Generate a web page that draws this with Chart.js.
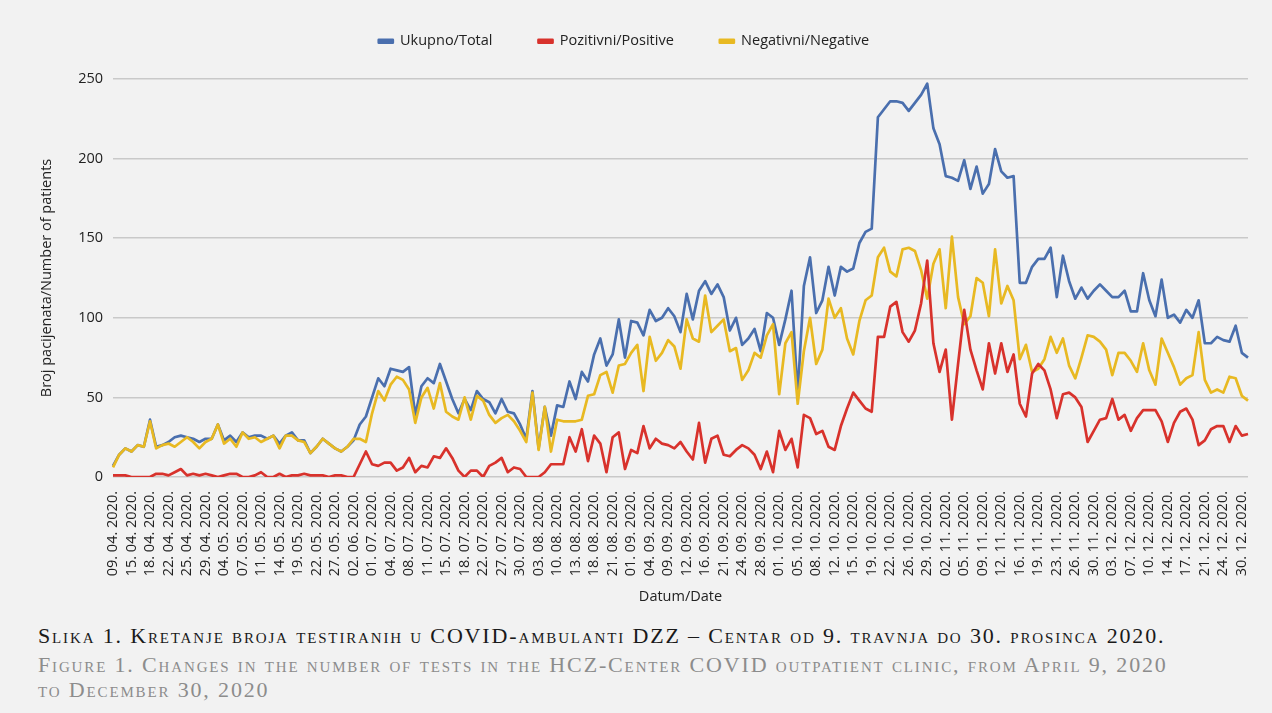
<!DOCTYPE html>
<html>
<head>
<meta charset="utf-8">
<title>Kretanje broja testiranih</title>
<script src="https://cdn.jsdelivr.net/npm/chart.js@4.4.1/dist/chart.umd.min.js"></script>
<style>
  html, body { margin: 0; padding: 0; background: #f2f2f2; }
  #wrap { position: relative; width: 1272px; height: 713px; overflow: hidden; }
  #chart { position: absolute; left: 0; top: 0; }
  .cap {
    position: absolute; left: 38px;
    font-family: 'Liberation Serif', serif; font-variant: small-caps;
    font-size: 22px; line-height: 26px; letter-spacing: 1.85px; white-space: nowrap;
  }
  .hr { color: #1a1a1a; top: 623px; }
  .en { color: #8c8c8c; }
</style>
</head>
<body>
<div id="wrap">
  <canvas id="chart" width="1272" height="612"></canvas>
  <div class="cap hr">Slika 1. Kretanje broja testiranih u COVID-ambulanti DZZ – Centar od 9. travnja do 30. prosinca 2020.</div>
  <div class="cap en" style="top:652px">Figure 1. Changes in the number of tests in the HCZ-Center COVID outpatient clinic, from April 9, 2020</div>
  <div class="cap en" style="top:677px">to December 30, 2020</div>
</div>
<script>
// tick labels, one for every third working day
const tickLabels = [
  '09. 04. 2020.', '15. 04. 2020.', '18. 04. 2020.', '22. 04. 2020.', '25. 04. 2020.', '29. 04. 2020.',
  '04. 05. 2020.', '07. 05. 2020.', '11. 05. 2020.', '14. 05. 2020.', '19. 05. 2020.', '22. 05. 2020.',
  '27. 05. 2020.', '02. 06. 2020.', '01. 07. 2020.', '04. 07. 2020.', '08. 07. 2020.', '11. 07. 2020.',
  '15. 07. 2020.', '18. 07. 2020.', '22. 07. 2020.', '27. 07. 2020.', '30. 07. 2020.', '03. 08. 2020.',
  '10. 08. 2020.', '13. 08. 2020.', '18. 08. 2020.', '21. 08. 2020.', '01. 09. 2020.', '04. 09. 2020.',
  '09. 09. 2020.', '12. 09. 2020.', '16. 09. 2020.', '21. 09. 2020.', '24. 09. 2020.', '28. 09. 2020.',
  '01. 10. 2020.', '05. 10. 2020.', '08. 10. 2020.', '12. 10. 2020.', '15. 10. 2020.', '19. 10. 2020.',
  '22. 10. 2020.', '26. 10. 2020.', '29. 10. 2020.', '02. 11. 2020.', '05. 11. 2020.', '09. 11. 2020.',
  '12. 11. 2020.', '16. 11. 2020.', '19. 11. 2020.', '23. 11. 2020.', '26. 11. 2020.', '30. 11. 2020.',
  '03. 12. 2020.', '07. 12. 2020.', '10. 12. 2020.', '14. 12. 2020.', '17. 12. 2020.', '21. 12. 2020.',
  '24. 12. 2020.', '30. 12. 2020.'
];

const seriesNames = ['Ukupno/Total', 'Pozitivni/Positive', 'Negativni/Negative'];

// Ukupno/Total
const total = [
  7, 14, 18, 16, 20, 19, 36, 19, 20, 22,
  25, 26, 25, 24, 22, 24, 24, 33, 23, 26,
  22, 28, 25, 26, 26, 24, 26, 21, 26, 28,
  23, 23, 15, 19, 24, 21, 18, 16, 19, 23,
  33, 38, 50, 62, 57, 68, 67, 66, 69, 39,
  57, 62, 59, 71, 60, 49, 40, 49, 42, 54,
  49, 47, 40, 49, 41, 40, 33, 24, 54, 18,
  44, 26, 45, 44, 60, 49, 66, 60, 77, 87,
  70, 77, 99, 75, 98, 97, 89, 105, 98, 100,
  106, 101, 91, 115, 99, 117, 123, 115, 121, 113,
  92, 100, 83, 87, 93, 79, 103, 100, 83, 99,
  117, 52, 120, 138, 103, 111, 132, 114, 132, 129,
  131, 147, 154, 156, 226, 231, 236, 236, 235, 230,
  235, 240, 247, 219, 209, 189, 188, 186, 199, 181,
  195, 178, 184, 206, 192, 188, 189, 122, 122, 132,
  137, 137, 144, 113, 139, 123, 112, 119, 112, 117,
  121, 117, 113, 113, 117, 104, 104, 128, 111, 101,
  124, 100, 102, 97, 105, 100, 111, 84, 84, 88,
  86, 85, 95, 78, 75
];

// Pozitivni/Positive
const positive = [
  1, 1, 1, 0, 0, 0, 0, 2, 2, 1,
  3, 5, 1, 2, 1, 2, 1, 0, 1, 2,
  2, 0, 0, 1, 3, 0, 0, 2, 0, 1,
  1, 2, 1, 1, 1, 0, 1, 1, 0, 0,
  8, 16, 8, 7, 9, 9, 4, 6, 12, 3,
  7, 6, 13, 12, 18, 12, 4, 0, 4, 4,
  0, 7, 9, 12, 3, 6, 5, 0, 0, 0,
  3, 8, 8, 8, 25, 16, 30, 10, 26, 21,
  3, 25, 28, 5, 17, 15, 32, 18, 24, 21,
  20, 18, 22, 16, 11, 34, 9, 24, 26, 14,
  13, 17, 20, 18, 14, 5, 16, 3, 29, 17,
  24, 6, 39, 37, 27, 29, 19, 17, 32, 43,
  53, 48, 43, 41, 88, 88, 107, 110, 91, 85,
  92, 109, 136, 84, 66, 80, 36, 71, 105, 80,
  67, 55, 84, 65, 84, 66, 77, 46, 38, 65,
  71, 67, 55, 37, 52, 53, 50, 44, 22, 29,
  36, 37, 49, 36, 39, 29, 37, 42, 42, 42,
  35, 22, 34, 41, 43, 36, 20, 23, 30, 32,
  32, 22, 32, 26, 27
];

// Negativni/Negative
const negative = [
  6, 14, 18, 16, 20, 19, 35, 18, 20, 21,
  19, 22, 25, 22, 18, 22, 24, 33, 21, 24,
  19, 28, 24, 25, 22, 24, 26, 18, 26, 26,
  23, 22, 15, 19, 24, 21, 18, 16, 19, 24,
  24, 22, 40, 54, 48, 58, 63, 61, 55, 34,
  50, 56, 43, 59, 41, 38, 36, 50, 36, 51,
  48, 39, 34, 37, 39, 35, 29, 22, 53, 17,
  44, 16, 36, 35, 35, 35, 36, 51, 52, 64,
  66, 53, 70, 71, 78, 83, 54, 88, 73, 78,
  86, 82, 68, 99, 87, 85, 114, 91, 95, 99,
  79, 81, 61, 67, 78, 75, 89, 96, 52, 84,
  91, 46, 79, 100, 71, 80, 112, 100, 106, 87,
  77, 98, 111, 114, 138, 144, 129, 126, 143, 144,
  142, 130, 112, 134, 143, 106, 151, 113, 96, 101,
  125, 122, 101, 143, 109, 120, 111, 74, 83, 66,
  68, 74, 88, 78, 87, 70, 62, 75, 89, 88,
  85, 80, 64, 78, 78, 73, 66, 84, 67, 58,
  87, 78, 69, 58, 62, 64, 91, 61, 53, 55,
  53, 63, 62, 51, 48
];

const BLUE = '#4a6fae';
const RED = '#d8322c';
const YELLOW = '#e8b922';
const FONT = "'Open Sans', 'Liberation Sans', sans-serif";

// every third point carries a date on the axis
const labels = total.map((v, i) => (i % 3 === 0 ? tickLabels[i / 3] : ''));

// keep the legend block at a fixed height so the plot top lines up
const legendHeight = {
  id: 'legendHeight',
  beforeInit(chart) {
    const fit = chart.legend.fit;
    chart.legend.fit = function () {
      fit.call(this);
      this.height = 91;
    };
  }
};

function line(label, data, color, order) {
  return {
    label, data, order,
    borderColor: color,
    backgroundColor: color,
    borderWidth: 2.7,
    borderJoinStyle: 'round',
    pointRadius: 0,
    tension: 0
  };
}

new Chart(document.getElementById('chart'), {
  type: 'line',
  data: {
    labels,
    datasets: [
      line(seriesNames[0], total, BLUE, 2),
      line(seriesNames[1], positive, RED, 0),
      line(seriesNames[2], negative, YELLOW, 1)
    ]
  },
  plugins: [legendHeight],
  options: {
    responsive: false,
    animation: false,
    events: [],
    layout: { padding: { top: -12, left: 0, right: 24, bottom: 0 } },
    plugins: {
      legend: {
        position: 'top',
        labels: {
          boxWidth: 14,
          boxHeight: 3,
          padding: 46,
          color: '#222',
          font: { family: FONT, size: 14.5 },
          sort: (a, b) => a.datasetIndex - b.datasetIndex
        }
      },
      tooltip: { enabled: false }
    },
    scales: {
      x: {
        grid: { display: false },
        border: { display: false },
        ticks: {
          autoSkip: false,
          minRotation: 90,
          maxRotation: 90,
          padding: 6,
          color: '#222',
          font: { family: FONT, size: 14.5 }
        },
        title: {
          display: true,
          text: 'Datum/Date',
          color: '#222',
          font: { family: FONT, size: 14.5 },
          padding: { top: 0, bottom: 6 }
        },
        afterFit(scale) { scale.height = 135; }
      },
      y: {
        min: 0,
        max: 250,
        ticks: {
          stepSize: 50,
          padding: 10,
          color: '#222',
          font: { family: FONT, size: 14.5 }
        },
        grid: { color: '#c9c9c9', lineWidth: 1.5, drawTicks: false },
        border: { display: false },
        title: {
          display: true,
          text: 'Broj pacijenata/Number of patients',
          color: '#222',
          font: { family: FONT, size: 14.5 },
          padding: { top: 38, bottom: 0 }
        },
        afterFit(scale) { scale.width = 113; }
      }
    }
  }
});
</script>
</body>
</html>
